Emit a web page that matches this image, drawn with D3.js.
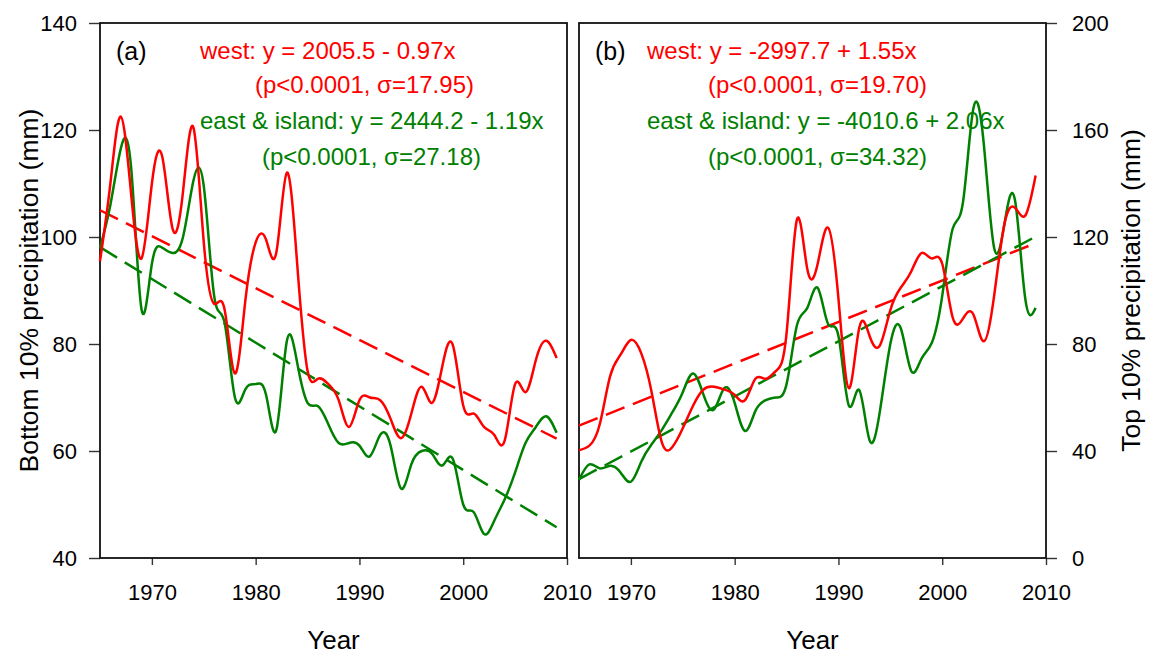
<!DOCTYPE html>
<html>
<head>
<meta charset="utf-8">
<script src="https://cdn.jsdelivr.net/npm/d3@7"></script>
<style>
  body { margin: 0; background: #fff; }
  svg { display: block; font-family: "Liberation Sans", Arial, sans-serif; }
</style>
</head>
<body>
<svg id="chart" width="1150" height="656"></svg>
<script>
// Annual series, 1965–2009
const years = [1965, 1966, 1967, 1968, 1969, 1970, 1971, 1972, 1973, 1974,
               1975, 1976, 1977, 1978, 1979, 1980, 1981, 1982, 1983, 1984,
               1985, 1986, 1987, 1988, 1989, 1990, 1991, 1992, 1993, 1994,
               1995, 1996, 1997, 1998, 1999, 2000, 2001, 2002, 2003, 2004,
               2005, 2006, 2007, 2008, 2009];

// Bottom 10% precipitation (mm)
const westLow = [95.5, 110, 122.5, 108, 96, 110, 115, 101.5, 108.5, 120.5,
                 99, 87.5, 86.5, 74.5, 88, 99, 99.5, 97.2, 112, 95,
                 75, 73.5, 72.5, 69.5, 64.5, 69.5, 70, 69.5, 66, 62.4,
                 67, 72, 69, 76, 79.8, 68.5, 67, 64.5, 63, 62,
                 72.5, 71, 77, 80.6, 77.4];
const eastLow = [98, 106, 116.5, 113, 86.5, 95, 98, 97, 100, 110.5,
                 109.5, 89, 84, 70, 71.5, 72.5, 70.5, 64, 80.5, 76.5,
                 69, 68.4, 65, 61.5, 61.5, 61, 59, 63, 61, 53,
                 57.5, 60, 59.5, 57.3, 58.5, 50, 48.6, 44.5, 47, 51,
                 56, 61.5, 64.5, 66.5, 63.4];

// Top 10% precipitation (mm)
const westHigh = [40.3, 42, 50, 68, 76, 81.5, 76.5, 62, 43, 41.5,
                  48.5, 57, 63, 64, 63, 61, 59, 67, 67, 70,
                  84, 126.5, 108, 110, 123.5, 97, 63.5, 86, 83, 79.5,
                  92.7, 101, 107, 114, 112, 110, 90, 89.5, 91, 81,
                  98, 125, 131, 128, 143];
const eastHigh = [29.2, 35, 33.5, 34.5, 32, 28.5, 36, 42.5, 48, 54.5,
                  62, 69, 61, 55.5, 63.5, 58, 47.5, 55, 59, 60,
                  65, 87, 93.5, 101, 87.5, 83, 57, 62.8, 44, 55,
                  80, 86, 70, 74.5, 80.5, 98, 123, 133, 168, 155,
                  116, 125, 134, 97, 93.5];

// Linear trends: slopes from the fitted equations, level at 1965
const trendSlopes = { westLow: -0.97, eastLow: -1.19, westHigh: 1.55, eastHigh: 2.06 };
const trendAt1965 = { westLow: 105, eastLow: 98.1, westHigh: 49.5, eastHigh: 29.5 };

// Axis ticks
const yearTicks = [1970, 1980, 1990, 2000, 2010];
const lowTicks  = [40, 60, 80, 100, 120, 140];
const highTicks = [0, 40, 80, 120, 160, 200];

// Fit annotations
const notesLow  = ["west: y = 2005.5 - 0.97x", "(p<0.0001, σ=17.95)",
                   "east & island: y = 2444.2 - 1.19x", "(p<0.0001, σ=27.18)"];
const notesHigh = ["west: y = -2997.7 + 1.55x", "(p<0.0001, σ=19.70)",
                   "east & island: y = -4010.6 + 2.06x", "(p<0.0001, σ=34.32)"];

const RED = "#ff0000", GREEN = "#008000";
const svg = d3.select("#chart");
const plotTop = 23, plotBottom = 558;

const panels = [
  { tag: "(a)", x0: 100, x1: 567, domain: [40, 140], ticks: lowTicks, side: "left",
    west: westLow, east: eastLow, wKey: "westLow", eKey: "eastLow",
    notes: notesLow, noteX: [200, 255, 200, 262],
    title: "Bottom 10% precipitation (mm)", titleX: 38 },
  { tag: "(b)", x0: 579, x1: 1046, domain: [0, 200], ticks: highTicks, side: "right",
    west: westHigh, east: eastHigh, wKey: "westHigh", eKey: "eastHigh",
    notes: notesHigh, noteX: [647, 708, 647, 708],
    title: "Top 10% precipitation (mm)", titleX: 1140 }
];
const noteY = [59, 93, 129, 165];

panels.forEach(p => {
  const x = d3.scaleLinear().domain([1965, 2010]).range([p.x0, p.x1]);
  const y = d3.scaleLinear().domain(p.domain).range([plotBottom, plotTop]);
  const g = svg.append("g");

  // x axis
  const xa = g.append("g").attr("transform", `translate(0,${plotBottom})`)
    .call(d3.axisBottom(x).tickValues(yearTicks).tickFormat(d3.format("d"))
      .tickSize(7).tickPadding(19));
  // y axis
  const ya = g.append("g")
    .attr("transform", `translate(${p.side === "left" ? p.x0 : p.x1},0)`)
    .call((p.side === "left" ? d3.axisLeft(y) : d3.axisRight(y))
      .tickValues(p.ticks).tickSize(11).tickPadding(p.side === "left" ? 12 : 15));
  [xa, ya].forEach(a => {
    a.select(".domain").remove();
    a.selectAll(".tick line").attr("stroke", "#333").attr("stroke-width", 1.4);
    a.selectAll(".tick text").attr("font-size", 22).attr("fill", "#000")
      .attr("font-family", '"Liberation Sans", Arial, sans-serif');
  });

  // frame
  g.append("rect").attr("x", p.x0).attr("y", plotTop)
    .attr("width", p.x1 - p.x0).attr("height", plotBottom - plotTop)
    .attr("fill", "none").attr("stroke", "#111").attr("stroke-width", 1.8);

  // trend lines
  const trend = key => [years[0], years[years.length - 1]]
    .map(yr => [yr, trendAt1965[key] + trendSlopes[key] * (yr - 1965)]);
  const straight = d3.line().x(d => x(d[0])).y(d => y(d[1]));
  [[p.wKey, RED], [p.eKey, GREEN]].forEach(([k, c]) => {
    g.append("path").attr("d", straight(trend(k)))
      .attr("fill", "none").attr("stroke", c).attr("stroke-width", 2.5)
      .attr("stroke-dasharray", "20,9");
  });

  // smoothed series
  const smooth = d3.line().curve(d3.curveNatural)
    .x((d, i) => x(years[i])).y(d => y(d));
  [[p.east, GREEN], [p.west, RED]].forEach(([vals, c]) => {
    g.append("path").attr("d", smooth(vals))
      .attr("fill", "none").attr("stroke", c).attr("stroke-width", 2.5)
      .attr("stroke-linejoin", "round");
  });

  // panel tag and fit notes
  g.append("text").attr("x", p.x0 + 16).attr("y", 60)
    .attr("font-size", 25).text(p.tag);
  p.notes.forEach((t, i) => {
    g.append("text").attr("x", p.noteX[i]).attr("y", noteY[i])
      .attr("font-size", 24).attr("fill", i < 2 ? RED : GREEN).text(t);
  });

  // axis titles
  g.append("text").attr("x", (p.x0 + p.x1) / 2).attr("y", 649)
    .attr("text-anchor", "middle").attr("font-size", 26).text("Year");
  g.append("text")
    .attr("transform", `translate(${p.titleX},${(plotTop + plotBottom) / 2}) rotate(-90)`)
    .attr("text-anchor", "middle").attr("font-size", 26.5).text(p.title);
});
</script>
</body>
</html>
